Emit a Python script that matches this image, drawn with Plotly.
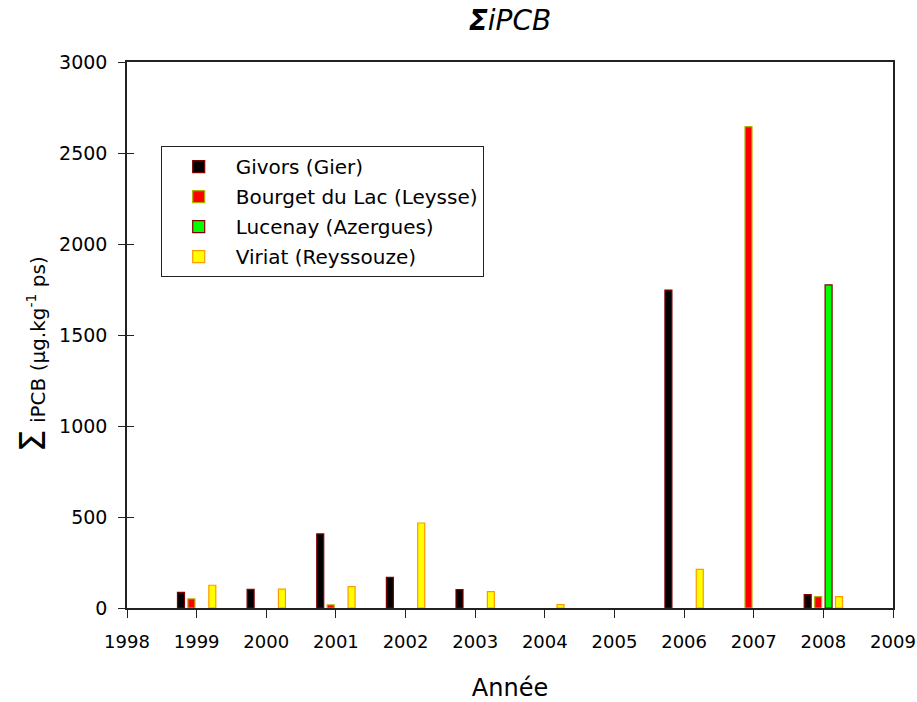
import plotly.graph_objects as go

years = [1999, 2000, 2001, 2002, 2003, 2004, 2006, 2007, 2008]
givors = [86, 103, 407, 168, 101, None, 1747, None, 73]
bourget = [50, None, 17, None, None, None, None, 2645, 62]
lucenay = [None, None, None, None, None, None, None, None, 1775]
viriat = [125, 104, 117, 467, 90, 18, 212, None, 62]

names = ["Givors (Gier)", "Bourget du Lac (Leysse)", "Lucenay (Azergues)", "Viriat (Reyssouze)"]
fills = ["#000000", "#ff0000", "#00ff00", "#ffff00"]
lines = ["#800000", "#b0b000", "#800000", "#ff9900"]
series = [givors, bourget, lucenay, viriat]

FONT = "DejaVu Sans"
fig = go.Figure()
for i, (nm, vals, fc, lc) in enumerate(zip(names, series, fills, lines)):
    fig.add_trace(go.Bar(x=years, y=vals, name=nm, legendgroup=str(i),
                         marker=dict(color=fc, line=dict(color=lc, width=1.2))))

# helper axis only for inner half of the crossing y ticks
fig.add_trace(go.Scatter(x=[], y=[], yaxis="y2", showlegend=False, hoverinfo="skip"))

fig.update_layout(
    width=917, height=702,
    paper_bgcolor="white", plot_bgcolor="white",
    margin=dict(l=127, r=24, t=62, b=94),
    barmode="group", bargap=0.4, bargroupgap=0.33,
    font=dict(family=FONT, size=18, color="black"),
    title=dict(text="<b><i>Σ</i></b><i>iPCB</i>", x=0.5, xref="paper", xanchor="center",
               y=0.9715, yref="container", yanchor="middle",
               font=dict(size=28, family=FONT)),
    xaxis=dict(range=[1998, 2009], tickmode="linear", tick0=1998, dtick=1,
               showgrid=False, zeroline=False, showline=True, linecolor="#222222",
               linewidth=1.5, mirror=True, ticks="outside", ticklen=8,
               tickcolor="#222222", ticklabelstandoff=9, automargin=False,
               title=dict(text="Année", font=dict(size=24), standoff=30)),
    yaxis=dict(range=[0, 3000], tickmode="linear", tick0=0, dtick=500,
               showgrid=False, zeroline=False, showline=True, linecolor="#222222",
               linewidth=1.5, mirror=True, ticks="outside", ticklen=7,
               tickcolor="#222222", ticklabelstandoff=7, automargin=False,
               tickfont=dict(size=19)),
    yaxis2=dict(range=[0, 3000], overlaying="y", side="left", anchor="x",
                tickmode="linear", tick0=0, dtick=500, showgrid=False,
                zeroline=False, showline=False, ticks="inside", ticklen=7,
                tickcolor="#222222", showticklabels=False, automargin=False),
    legend=dict(x=0.044, y=0.846, xanchor="left", yanchor="top",
                bgcolor="white", bordercolor="#222222", borderwidth=1,
                font=dict(size=20, family=FONT), traceorder="grouped",
                itemwidth=64, tracegroupgap=1),
    annotations=[dict(text="<span style='font-size:36px'>Σ</span> iPCB (µg.kg<sup>-1</sup> ps)",
                      xref="paper", yref="paper", x=-0.124, y=0.465,
                      xanchor="center", yanchor="middle", textangle=-90,
                      showarrow=False, font=dict(size=20, family=FONT))],
    showlegend=True,
)

fig.write_html("out.html", config={"displayModeBar": False},
               post_script="document.body.style.margin='0';document.body.style.overflow='hidden';")
